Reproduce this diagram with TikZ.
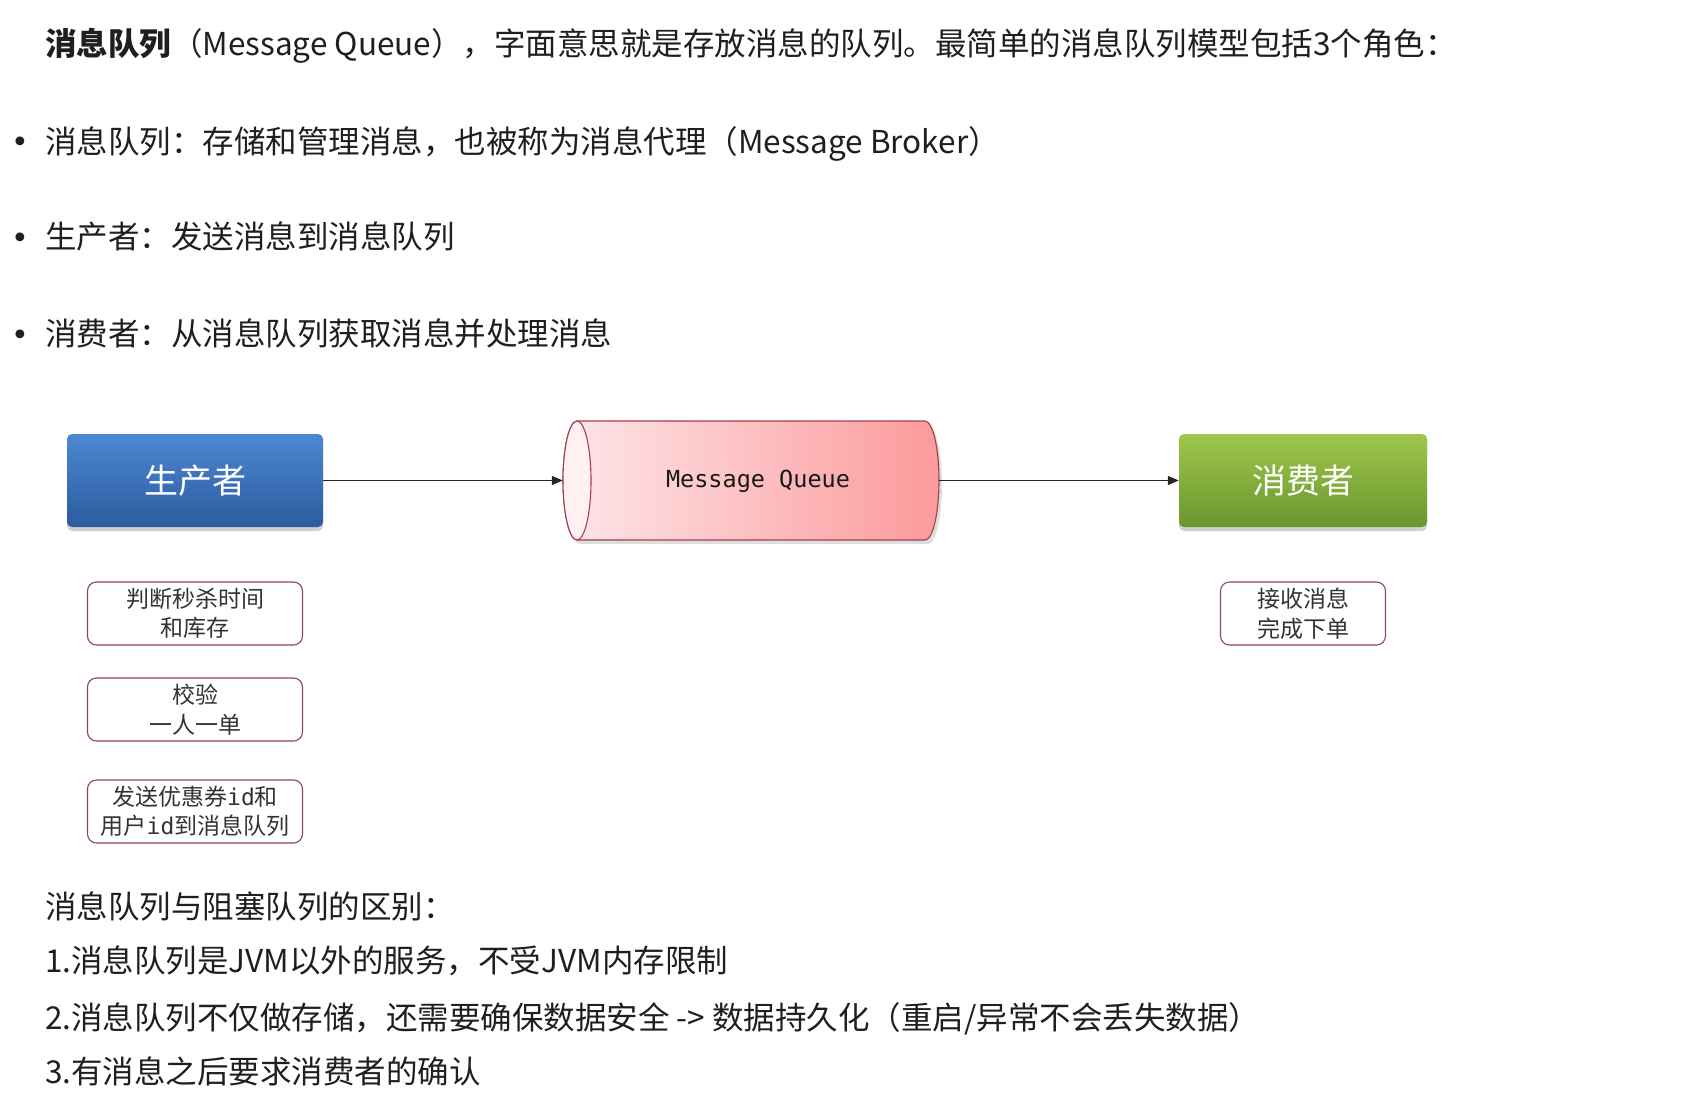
\documentclass[tikz,border=0pt]{standalone}
\usepackage{fontspec}
\setmainfont{Noto Sans CJK SC}
\setmonofont{DejaVu Sans Mono}
\newfontfamily\bulfont{DejaVu Sans}
\usetikzlibrary{arrows.meta,shadows}
\definecolor{txt}{HTML}{1F1F1F}
\definecolor{notet}{HTML}{333333}
\definecolor{noteb}{HTML}{8E4652}
\definecolor{blueT}{HTML}{4C88D2}
\definecolor{blueB}{HTML}{2C5B9F}
\definecolor{greenT}{HTML}{9EC74B}
\definecolor{greenB}{HTML}{6A962E}
\definecolor{mqL}{HTML}{FDE6E9}
\definecolor{mqR}{HTML}{FC9A9B}
\definecolor{mqEdge}{HTML}{A0404F}
\definecolor{mqCap}{HTML}{FFF1F3}
\begin{document}
\begin{tikzpicture}[x=1pt,y=-1pt,
  txtl/.style={anchor=base west, inner sep=0pt, text=txt, font=\fontsize{31.5}{36}\selectfont},
  bul/.style={inner sep=0pt, text=txt, font=\bulfont\fontsize{30}{34}\selectfont},
  bigbox/.style={rounded corners=5pt, minimum height=93pt, text=white,
    font=\fontsize{34}{40}\selectfont,
    drop shadow={shadow xshift=0pt, shadow yshift=-4pt, opacity=0.3, fill=black!60}},
  note/.style={draw=noteb, line width=1.1pt, rounded corners=9pt, fill=white,
    minimum width=215pt, minimum height=63pt, align=center, text=notet,
    font=\fontsize{23}{29.5}\selectfont, inner sep=0pt},
  conn/.style={draw=black!85, line width=1.2pt, -{Triangle[length=11pt,width=9pt]}}]
\useasboundingbox (0,0) rectangle (1696,1112);
\fill[white] (0,0) rectangle (1696,1112);

% header text
\node[txtl] (title) at (45,55) {\textbf{消息队列}（Message Queue），字面意思就是存放消息的队列。最简单的消息队列模型包括3个角色：};
\node[bul] (b1) at (20,145) {•};
\node[txtl] (l1) at (45,153) {消息队列：存储和管理消息，也被称为消息代理（Message Broker）};
\node[bul] (b2) at (20,241) {•};
\node[txtl] (l2) at (45,248) {生产者：发送消息到消息队列};
\node[bul] (b3) at (20,338) {•};
\node[txtl] (l3) at (45,345) {消费者：从消息队列获取消息并处理消息};

% diagram
\node[bigbox, minimum width=256pt, top color=blueT, bottom color=blueB] (prod) at (195,480.5) {生产者};
\node[bigbox, minimum width=248pt, top color=greenT, bottom color=greenB] (cons) at (1303,480.5) {消费者};

\fill[black!25, opacity=0.5] (580,425) -- (928,425) arc[start angle=-90, end angle=90, x radius=14, y radius=59.5]
  -- (580,544) arc[start angle=90, end angle=270, x radius=14, y radius=59.5] -- cycle;
\shade[left color=mqL, right color=mqR, draw=mqEdge, line width=1.1pt]
  (577,421) -- (925,421) arc[start angle=-90, end angle=90, x radius=14, y radius=59.5]
  -- (577,540) arc[start angle=90, end angle=270, x radius=14, y radius=59.5] -- cycle;
\filldraw[fill=mqCap, draw=mqEdge, line width=1.1pt] (577,480.5) ellipse[x radius=14, y radius=59.5];
\node[inner sep=0pt, minimum width=376pt, minimum height=119pt] (mq) at (751,480.5) {};
\node[inner sep=0pt, text=black!90, font=\ttfamily\fontsize{23.5}{28}\selectfont] (mqt) at (758,481) {Message Queue};

\draw[conn] (prod.east) -- (mq.west);
\draw[conn] (mq.east) -- (cons.west);

\node[note] (n1) at (195,613.5) {判断秒杀时间\\和库存};
\node[note] (n2) at (195,709.5) {校验\\一人一单};
\node[note] (n3) at (195,811.5) {发送优惠券{\ttfamily id}和\\用户{\ttfamily id}到消息队列};
\node[note, minimum width=165pt] (n4) at (1303,613.5) {接收消息\\完成下单};

% footer text
\node[txtl] (f0) at (45,918) {消息队列与阻塞队列的区别：};
\node[txtl] (f1) at (45,972) {1.消息队列是JVM以外的服务，不受JVM内存限制};
\node[txtl] (f2) at (45,1029) {2.消息队列不仅做存储，还需要确保数据安全 -> 数据持久化（重启/异常不会丢失数据）};
\node[txtl] (f3) at (45,1083) {3.有消息之后要求消费者的确认};
\end{tikzpicture}
\end{document}
